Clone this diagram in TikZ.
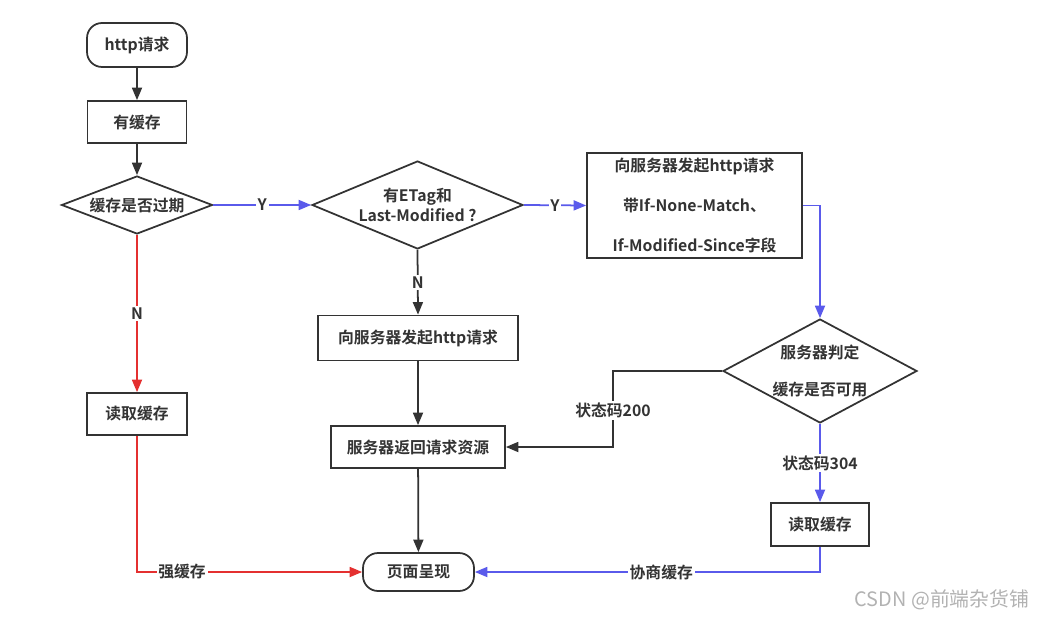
\documentclass[tikz,border=0pt]{standalone}
\usepackage{fontspec}
\setmainfont{Noto Sans CJK SC}[BoldFont={Noto Sans CJK SC Bold}]
\usetikzlibrary{shapes.geometric,arrows.meta}
\definecolor{flowblue}{RGB}{90,90,235}
\definecolor{flowred}{RGB}{228,48,48}
\definecolor{flowline}{RGB}{51,51,51}

\begin{document}
\begin{tikzpicture}[x=0.02cm, y=-0.02cm,
  font=\fontsize{9}{11}\selectfont\bfseries,
  >={Triangle[length=2.5mm,width=2mm]}, line width=1pt,
  box/.style={draw=flowline, rectangle, inner sep=2pt, text=flowline},
  term/.style={box, rounded corners=0.3cm},
  decide/.style={draw=flowline, diamond, inner sep=0pt, align=center, text=flowline},
  tag/.style={fill=white, inner sep=1pt, text=flowline},
  blackflow/.style={->, draw=flowline},
  blueflow/.style={->, draw=flowblue},
  redflow/.style={->, draw=flowred}]
  \useasboundingbox (0,0) rectangle (1050,621);

  % ----- left column -----
  \node[term, minimum width=2cm, minimum height=0.88cm] (http) at (137,45) {http请求};
  \node[box, minimum width=1.98cm, minimum height=0.84cm] (hascache) at (137,122) {有缓存};
  \node[decide, aspect=2.6, minimum width=3.02cm, minimum height=1.16cm]
    (expired) at (137,205) {缓存是否过期};
  \node[box, minimum width=2cm, minimum height=0.84cm] (readA) at (137,414) {读取缓存};

  % ----- middle column -----
  \node[decide, aspect=2.4, minimum width=4.22cm, minimum height=1.76cm,
    font=\fontsize{9}{11.4}\selectfont\bfseries]
    (etag) at (417.5,205) {有ETag和\\Last-Modified ?};
  \node[box, minimum width=4cm, minimum height=0.9cm] (req1) at (418,338) {向服务器发起http请求};
  \node[box, minimum width=3.48cm, minimum height=0.84cm] (back) at (418,447) {服务器返回请求资源};
  \node[term, minimum width=2.22cm, minimum height=0.76cm] (page) at (418.5,572) {页面呈现};

  % ----- right column -----
  \node[box, minimum width=4.3cm, minimum height=2.1cm, align=center,
    font=\fontsize{9}{22.7}\selectfont\bfseries]
    (req3) at (694.5,205.5) {向服务器发起http请求\\带If-None-Match、\\If-Modified-Since字段};
  \node[decide, aspect=1.87, minimum width=3.88cm, minimum height=2.08cm,
    font=\fontsize{9}{21}\selectfont\bfseries]
    (judge) at (820,371) {服务器判定\\缓存是否可用};
  \node[box, minimum width=1.96cm, minimum height=0.86cm] (readB) at (820,524.5) {读取缓存};
  \coordinate (bend200) at (613,371);

  % ----- connectors -----
  \draw[blackflow] (http) -- (hascache);
  \draw[blackflow] (hascache) -- (expired);
  \draw[blueflow] (expired.east) -- (etag.west) node[midway, tag] {Y};
  \draw[redflow] (expired.south) -- (readA.north) node[midway, tag] {N};
  \draw[blueflow] (etag.east) -- (req3.west) node[midway, tag] {Y};
  \draw[blackflow] (etag.south) -- (req1.north) node[midway, tag] {N};
  \draw[blackflow] (req1) -- (back);
  \draw[blackflow] (back) -- (page);
  \draw[blueflow] (req3.east) -| (judge.north);
  \draw[blackflow] (judge.west) -- (bend200) |- (back.east)
    node[pos=0.26, tag] {状态码200};
  \draw[blueflow] (judge.south) -- (readB.north) node[midway, tag] {状态码304};
  \draw[blueflow] (readB.south) |- (page.east) node[pos=0.73, tag] {协商缓存};
  \draw[redflow] (readA.south) |- (page.west) node[pos=0.6, tag] {强缓存};

  % ----- watermark -----
  \node[font=\fontsize{11.3}{13}\selectfont, text=gray!60, anchor=east]
    (mark) at (1036,600) {CSDN @前端杂货铺};
\end{tikzpicture}
\end{document}
